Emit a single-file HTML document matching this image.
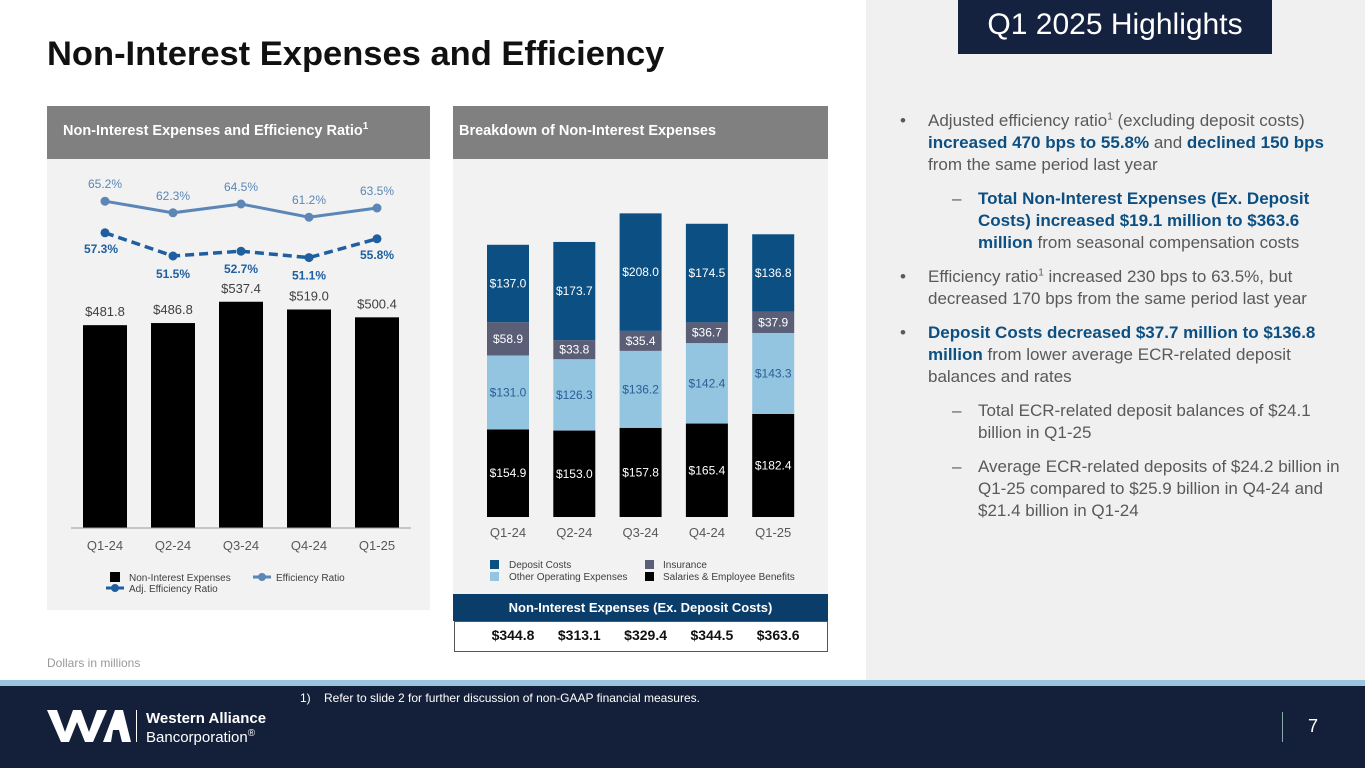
<!DOCTYPE html>
<html><head><meta charset="utf-8">
<style>
body{margin:0;width:1365px;height:768px;position:relative;overflow:hidden;background:#fff;font-family:"Liberation Sans",sans-serif;}
.abs{position:absolute;}
.hl{color:#595959;font-size:17px;line-height:22px;}
.hl b{color:#0c4f82;}
sup{font-size:10px;line-height:0;}
</style></head><body>
<div class="abs" style="left:866px;top:0;width:499px;height:680px;background:#f0f0f0"></div>
<div class="abs" style="left:958px;top:0;width:314px;height:54px;background:#14223f;color:#fff;font-size:30px;line-height:50px;text-align:center">Q1 2025 Highlights</div>
<div class="abs" style="left:47px;top:35px;font-size:34.5px;font-weight:bold;color:#111">Non-Interest Expenses and Efficiency</div>

<div class="abs" style="left:47px;top:106px;width:383px;height:504px;background:#f2f2f2"></div>
<div class="abs" style="left:47px;top:106px;width:383px;height:53px;background:#808080;color:#fff;font-size:14.5px;font-weight:bold;line-height:50px;padding-left:16px;box-sizing:border-box">Non-Interest Expenses and Efficiency Ratio<sup>1</sup></div>
<div class="abs" style="left:453px;top:106px;width:375px;height:488px;background:#f2f2f2"></div>
<div class="abs" style="left:453px;top:106px;width:375px;height:53px;background:#808080;color:#fff;font-size:14.5px;font-weight:bold;line-height:50px;padding-left:6px;box-sizing:border-box">Breakdown of Non-Interest Expenses</div>

<svg class="abs" style="left:0;top:0" width="1365" height="768">
<g id="left"></g><g id="right"></g>
</svg>

<div class="abs" style="left:453px;top:594px;width:375px;height:27px;background:#0b3d6b;color:#fff;font-size:13px;font-weight:bold;text-align:center;line-height:27px">Non-Interest Expenses (Ex. Deposit Costs)</div>
<div class="abs" style="left:454px;top:621px;width:372px;height:29px;background:#fff;border:1px solid #555" id="trow"></div>

<div class="abs" style="left:47px;top:656px;font-size:12px;color:#999">Dollars in millions</div>

<div class="abs hl" style="left:900px;top:110px;width:450px">
<div style="position:relative;padding-left:28px"><span style="position:absolute;left:0">•</span>Adjusted efficiency ratio<sup>1</sup> (excluding deposit costs) <b>increased 470 bps to 55.8%</b> and <b>declined 150 bps</b> from the same period last year</div>
<div style="position:relative;padding-left:78px;margin-top:12px"><span style="position:absolute;left:52px">–</span><b>Total Non-Interest Expenses (Ex. Deposit Costs) increased $19.1 million to $363.6 million</b> from seasonal compensation costs</div>
<div style="position:relative;padding-left:28px;margin-top:12px"><span style="position:absolute;left:0">•</span>Efficiency ratio<sup>1</sup> increased 230 bps to 63.5%, but decreased 170 bps from the same period last year</div>
<div style="position:relative;padding-left:28px;margin-top:12px"><span style="position:absolute;left:0">•</span><b>Deposit Costs decreased $37.7 million to $136.8 million</b> from lower average ECR-related deposit balances and rates</div>
<div style="position:relative;padding-left:78px;margin-top:12px"><span style="position:absolute;left:52px">–</span>Total ECR-related deposit balances of $24.1 billion in Q1-25</div>
<div style="position:relative;padding-left:78px;margin-top:12px"><span style="position:absolute;left:52px">–</span>Average ECR-related deposits of $24.2 billion in Q1-25 compared to $25.9 billion in Q4-24 and $21.4 billion in Q1-24</div>
</div>

<div class="abs" style="left:0;top:680px;width:1365px;height:6px;background:#9cc4e0"></div>
<div class="abs" style="left:0;top:686px;width:1365px;height:82px;background:#14203a"></div>
<div class="abs" style="left:300px;top:691px;font-size:12px;color:#fff">1)&nbsp;&nbsp;&nbsp; Refer to slide 2 for further discussion of non-GAAP financial measures.</div>
<svg class="abs" style="left:47px;top:708px" width="85" height="36">
<polygon points="0,2 10,2 18,24 26,2 34,2 42,24 50,2 60,2 46,34 38,34 30,14 22,34 14,34" fill="#fff"/>
<polygon points="56,34 68,2 76,2 84,34 75,34 72,22 66,22 64,34" fill="#fff"/>
</svg>
<div class="abs" style="left:136px;top:710px;width:1px;height:32px;background:#fff"></div>
<div class="abs" style="left:146px;top:709px;color:#fff;font-size:15px;line-height:19px"><b>Western Alliance</b><br>Bancorporation<sup>®</sup></div>
<div class="abs" style="left:1282px;top:712px;width:1px;height:30px;background:#8aa"></div>
<div class="abs" style="left:1308px;top:716px;color:#fff;font-size:18px">7</div>

<script>
const quarters=["Q1-24","Q2-24","Q3-24","Q4-24","Q1-25"];
const totalExp=[481.8,486.8,537.4,519.0,500.4];
const effRatio=[65.2,62.3,64.5,61.2,63.5];
const adjEffRatio=[57.3,51.5,52.7,51.1,55.8];
const salaries=[154.9,153.0,157.8,165.4,182.4];
const otherOps=[131.0,126.3,136.2,142.4,143.3];
const insurance=[58.9,33.8,35.4,36.7,37.9];
const depositCosts=[137.0,173.7,208.0,174.5,136.8];
const exDeposit=[344.8,313.1,329.4,344.5,363.6];

const NS="http://www.w3.org/2000/svg";
function mk(parent,tag,attrs,text){const e=document.createElementNS(NS,tag);for(const k in attrs)e.setAttribute(k,attrs[k]);if(text!==undefined)e.textContent=text;parent.appendChild(e);return e;}
const L=document.getElementById('left'),R=document.getElementById('right');
const lx=i=>105+i*68;const ly=v=>528-v*0.421;const ry=v=>462-v*4;
totalExp.forEach((v,i)=>{
 const r=mk(L,'rect',{x:lx(i)-22,y:ly(v),width:44,height:528-ly(v),fill:'#000'});
 
 
 const t=mk(L,'text',{x:lx(i),y:ly(v)-9,'text-anchor':'middle','font-size':13,fill:'#404040'},'$'+v.toFixed(1));
 
 
 const q=mk(L,'text',{x:lx(i),y:550,'text-anchor':'middle','font-size':13,fill:'#595959'},quarters[i]);
 
 
});
mk(L,'line',{x1:71,x2:411,y1:528,y2:528,stroke:'#999','stroke-width':1});
mk(L,'polyline',{points:effRatio.map((v,i)=>lx(i)+','+ry(v)).join(' '),fill:'none',stroke:'#5b86b5','stroke-width':3});
mk(L,'polyline',{points:adjEffRatio.map((v,i)=>lx(i)+','+ry(v)).join(' '),fill:'none',stroke:'#1f5fa0','stroke-width':3.5,'stroke-dasharray':'9,5'});
effRatio.forEach((v,i)=>{
 const c=mk(L,'circle',{cx:lx(i),cy:ry(v),r:4.5,fill:'#5b86b5'});
 
 
 mk(L,'text',{x:lx(i),y:ry(v)-13,'text-anchor':'middle','font-size':12,fill:'#5b86b5'},v.toFixed(1)+'%');
});
adjEffRatio.forEach((v,i)=>{
 const c=mk(L,'circle',{cx:lx(i),cy:ry(v),r:4.5,fill:'#1f5fa0'});
 
 
 const below=(i===0||i===4)?0:1;
 mk(L,'text',{x:lx(i)+(i===0?-4:0),y:ry(v)+(below?22:20),'text-anchor':'middle','font-size':12,'font-weight':'bold',fill:'#1f5fa0'},v.toFixed(1)+'%');
});
mk(L,'rect',{x:110,y:572,width:10,height:10,fill:'#000'});
mk(L,'text',{x:129,y:581,'font-size':10,fill:'#404040'},'Non-Interest Expenses');
mk(L,'line',{x1:253,x2:271,y1:577,y2:577,stroke:'#5b86b5','stroke-width':3});
mk(L,'circle',{cx:262,cy:577,r:4,fill:'#5b86b5'});
mk(L,'text',{x:276,y:581,'font-size':10,fill:'#404040'},'Efficiency Ratio');
mk(L,'line',{x1:106,x2:124,y1:588,y2:588,stroke:'#1f5fa0','stroke-width':3});
mk(L,'circle',{cx:115,cy:588,r:4,fill:'#1f5fa0'});
mk(L,'text',{x:129,y:592,'font-size':10,fill:'#404040'},'Adj. Efficiency Ratio');
const bx=i=>508+i*66.3;const by=v=>517-v*0.565;
const series=[[salaries,'#000','#fff','salaries'],[otherOps,'#93c4e0','#2a5f95','other-operating'],[insurance,'#5a5f77','#fff','insurance'],[depositCosts,'#0c4f82','#fff','deposit-costs']];
quarters.forEach((q,i)=>{
 let base=0;
 series.forEach(([arr,col,tc,nm])=>{
  const v=arr[i];
  const r=mk(R,'rect',{x:bx(i)-21,y:by(base+v),width:42,height:by(base)-by(base+v),fill:col});
  
  
  mk(R,'text',{x:bx(i),y:(by(base)+by(base+v))/2+4,'text-anchor':'middle','font-size':12,fill:tc},'$'+v.toFixed(1));
  base+=v;
 });
 const t=mk(R,'text',{x:bx(i),y:537,'text-anchor':'middle','font-size':13,fill:'#595959'},q);
 
 
});
mk(R,'rect',{x:490,y:560,width:9,height:9,fill:'#0c4f82'});
mk(R,'text',{x:509,y:568,'font-size':10,fill:'#404040'},'Deposit Costs');
mk(R,'rect',{x:490,y:572,width:9,height:9,fill:'#93c4e0'});
mk(R,'text',{x:509,y:580,'font-size':10,fill:'#404040'},'Other Operating Expenses');
mk(R,'rect',{x:645,y:560,width:9,height:9,fill:'#5a5f77'});
mk(R,'text',{x:663,y:568,'font-size':10,fill:'#404040'},'Insurance');
mk(R,'rect',{x:645,y:572,width:9,height:9,fill:'#000'});
mk(R,'text',{x:663,y:580,'font-size':10,fill:'#404040'},'Salaries & Employee Benefits');
const tr=document.getElementById('trow');
exDeposit.forEach((v,i)=>{
 const d=document.createElement('div');
 
 
 d.style.cssText='position:absolute;top:0;line-height:27px;font-size:14px;font-weight:bold;color:#111;width:70px;text-align:center;left:'+(bx(i)-454-35+4)+'px';
 d.textContent='$'+v.toFixed(1);
 tr.appendChild(d);
});
</script>
</body></html>
